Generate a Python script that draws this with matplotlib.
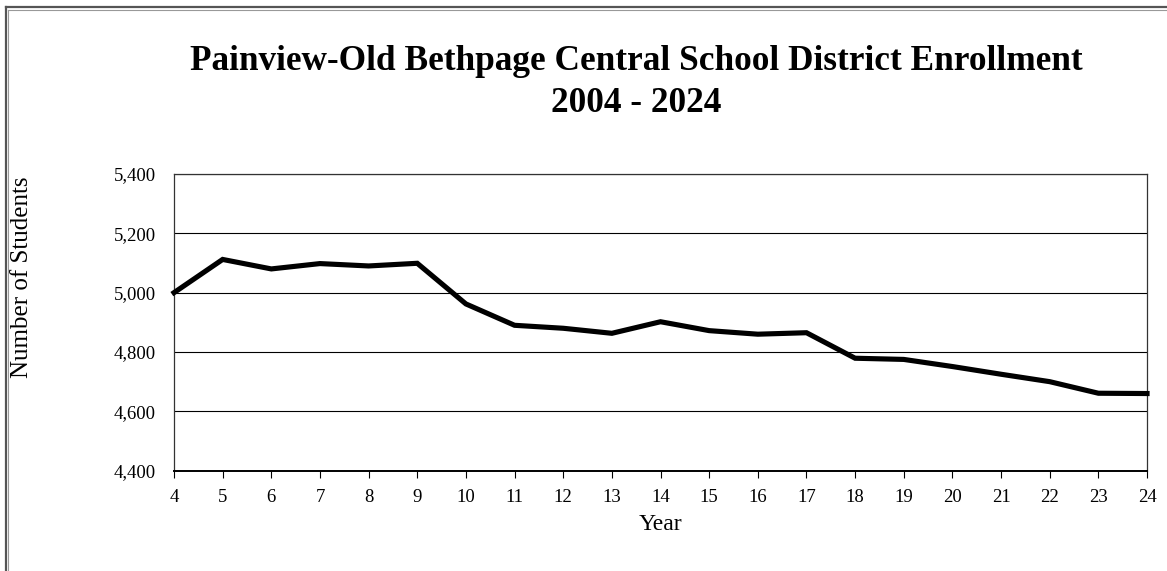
import numpy as np
import matplotlib
matplotlib.use('Agg')
import matplotlib.pyplot as plt
from matplotlib.lines import Line2D

# enrollment by school year (2004 - 2024)
years = [4, 5, 6, 7, 8, 9, 10, 11, 12, 13, 14, 15, 16, 17, 18, 19, 20, 21, 22, 23, 24]
students = [5000, 5112, 5080, 5098, 5090, 5099, 4962, 4890, 4880, 4863, 4902,
            4872, 4860, 4865, 4779, 4775, 4751, 4725, 4700, 4661, 4660]
yticks = [4400, 4600, 4800, 5000, 5200, 5400]

plt.rcParams['font.family'] = ['Liberation Serif', 'DejaVu Serif']

fig = plt.figure(figsize=(11.67, 5.71), dpi=100)
ax = fig.add_axes([0.1491, 0.1757, 0.8338, 0.5196])

ax.plot(years, students, color='black', linewidth=3.7, solid_joinstyle='miter',
        clip_on=False, zorder=3)

ax.set_xlim(4, 24)
ax.set_ylim(4400, 5400)
ax.set_xticks(years)
ax.set_xticklabels([str(y) for y in years], fontsize=13.5)
ax.set_yticks(yticks)
ax.set_yticklabels(['{:,}'.format(v) for v in yticks], fontsize=13.5)
ax.grid(axis='y', color='black', linewidth=0.8)
ax.set_axisbelow(True)
ax.tick_params(axis='x', direction='out', length=5, width=0.8, pad=8)
ax.tick_params(axis='y', length=0, pad=13)
for s in ax.spines.values():
    s.set_color('#333333')
    s.set_linewidth(0.9)
ax.spines['bottom'].set_linewidth(1.4)
ax.spines['bottom'].set_color('black')

ax.set_xlabel('Year', fontsize=17, va='center')
ax.xaxis.set_label_coords(0.5, -0.183)
fig.text(0.019, 0.515, 'Number of Students', rotation=90, fontsize=18,
         ha='center', va='center')

fig.text(0.5454, 0.893, 'Painview-Old Bethpage Central School District Enrollment',
         fontsize=25.4, fontweight='bold', ha='center', va='center')
fig.text(0.5454, 0.819, '2004 - 2024', fontsize=25.4, fontweight='bold',
         ha='center', va='center')

# double frame on left and top
W, H = 1167.0, 571.0
fig.add_artist(Line2D([5.5 / W, 5.5 / W], [0, 1 - 6.5 / H], color='#555555', linewidth=1.6))
fig.add_artist(Line2D([5.5 / W, 1], [1 - 6.5 / H, 1 - 6.5 / H], color='#555555', linewidth=1.6))
fig.add_artist(Line2D([8 / W, 8 / W], [0, 1 - 9.5 / H], color='#999999', linewidth=0.8))
fig.add_artist(Line2D([8 / W, 1], [1 - 9.5 / H, 1 - 9.5 / H], color='#999999', linewidth=0.8))

fig.savefig('out.png', dpi=100)
